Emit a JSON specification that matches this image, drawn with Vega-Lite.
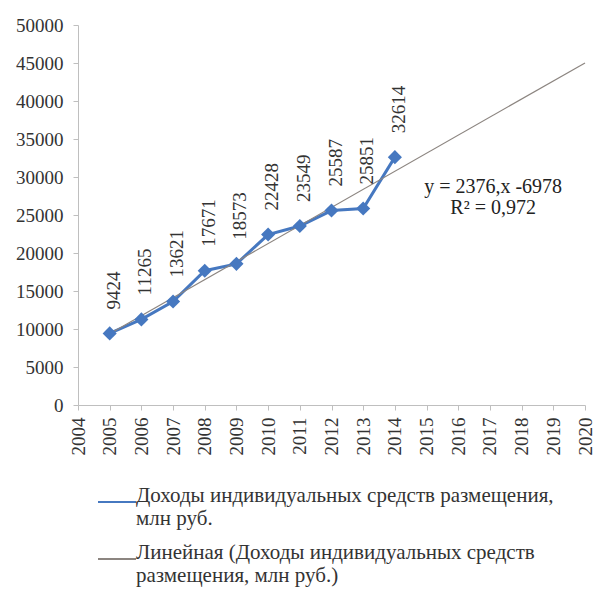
{
  "$schema": "https://vega.github.io/schema/vega-lite/v6.json",
  "width": 507,
  "height": 380,
  "autosize": {"type": "none"},
  "padding": {"left": 78, "top": 25, "right": 9, "bottom": 200},
  "background": "white",
  "config": {
    "font": "Liberation Serif",
    "view": {"stroke": null},
    "axis": {
      "grid": false,
      "domainColor": "#BFBFBF",
      "tickColor": "#BFBFBF",
      "tickSize": 5,
      "labelColor": "#333333",
      "labelFont": "Liberation Serif",
      "labelFontSize": 19,
      "title": null
    },
    "legend": {"labelFont": "Liberation Serif"}
  },
  "datasets": {
    "main": [
      {"year": 2005, "value": 9424, "series": "Доходы индивидуальных средств размещения, млн руб."},
      {"year": 2006, "value": 11265, "series": "Доходы индивидуальных средств размещения, млн руб."},
      {"year": 2007, "value": 13621, "series": "Доходы индивидуальных средств размещения, млн руб."},
      {"year": 2008, "value": 17671, "series": "Доходы индивидуальных средств размещения, млн руб."},
      {"year": 2009, "value": 18573, "series": "Доходы индивидуальных средств размещения, млн руб."},
      {"year": 2010, "value": 22428, "series": "Доходы индивидуальных средств размещения, млн руб."},
      {"year": 2011, "value": 23549, "series": "Доходы индивидуальных средств размещения, млн руб."},
      {"year": 2012, "value": 25587, "series": "Доходы индивидуальных средств размещения, млн руб."},
      {"year": 2013, "value": 25851, "series": "Доходы индивидуальных средств размещения, млн руб."},
      {"year": 2014, "value": 32614, "series": "Доходы индивидуальных средств размещения, млн руб."}
    ],
    "trend": [
      {"year": 2005, "value": 9363, "series": "Линейная (Доходы индивидуальных средств размещения, млн руб.)"},
      {"year": 2020, "value": 45012, "series": "Линейная (Доходы индивидуальных средств размещения, млн руб.)"}
    ],
    "annot": [
      {"year": 2017.1, "value": 28700, "text": "y = 2376,x -6978"},
      {"year": 2017.1, "value": 25900, "text": "R² = 0,972"}
    ]
  },
  "encoding": {
    "x": {
      "field": "year",
      "type": "quantitative",
      "scale": {"domain": [2004, 2020], "nice": false, "zero": false},
      "axis": {
        "values": [2004, 2005, 2006, 2007, 2008, 2009, 2010, 2011, 2012, 2013, 2014, 2015, 2016, 2017, 2018, 2019, 2020],
        "format": "d",
        "labelAngle": 270,
        "labelPadding": 7
      }
    },
    "y": {
      "field": "value",
      "type": "quantitative",
      "scale": {"domain": [0, 50000], "nice": false},
      "axis": {
        "values": [0, 5000, 10000, 15000, 20000, 25000, 30000, 35000, 40000, 45000, 50000],
        "format": "d",
        "labelPadding": 10
      }
    }
  },
  "layer": [
    {
      "data": {"name": "main"},
      "mark": {"type": "line", "strokeWidth": 3},
      "encoding": {
        "color": {
          "field": "series",
          "type": "nominal",
          "scale": {
            "domain": ["Доходы индивидуальных средств размещения, млн руб.", "Линейная (Доходы индивидуальных средств размещения, млн руб.)"],
            "range": ["#4678C0", "#8C8580"]
          },
          "legend": {
            "orient": "none",
            "legendX": 19,
            "legendY": 457,
            "padding": 0,
            "direction": "vertical",
            "title": null,
            "labelFont": "Liberation Serif",
            "labelFontSize": 21,
            "labelColor": "#333333",
            "labelLimit": 600,
            "labelOffset": -1,
            "labelBaseline": "alphabetic",
            "rowPadding": 10,
            "symbolType": "stroke",
            "symbolSize": 1444,
            "symbolStrokeWidth": 2,
            "labelExpr": "indexof(datum.label, 'Линейная') == 0 ? ['Линейная (Доходы индивидуальных  средств', 'размещения, млн руб.)'] : ['Доходы индивидуальных  средств размещения,', 'млн руб.']"
          }
        }
      }
    },
    {
      "data": {"name": "trend"},
      "mark": {"type": "line", "strokeWidth": 1.2},
      "encoding": {"color": {"field": "series", "type": "nominal"}}
    },
    {
      "data": {"name": "main"},
      "mark": {"type": "point", "shape": "diamond", "filled": true, "size": 200, "opacity": 1, "color": "#4678C0"}
    },
    {
      "data": {"name": "main"},
      "mark": {"type": "text", "angle": 270, "align": "left", "baseline": "middle", "dx": 24, "dy": 4, "fontSize": 19, "color": "#333333"},
      "encoding": {"text": {"field": "value", "type": "nominal"}}
    },
    {
      "data": {"name": "annot"},
      "mark": {"type": "text", "align": "center", "baseline": "middle", "fontSize": 20, "color": "#222222"},
      "encoding": {"text": {"field": "text", "type": "nominal"}}
    }
  ]
}
